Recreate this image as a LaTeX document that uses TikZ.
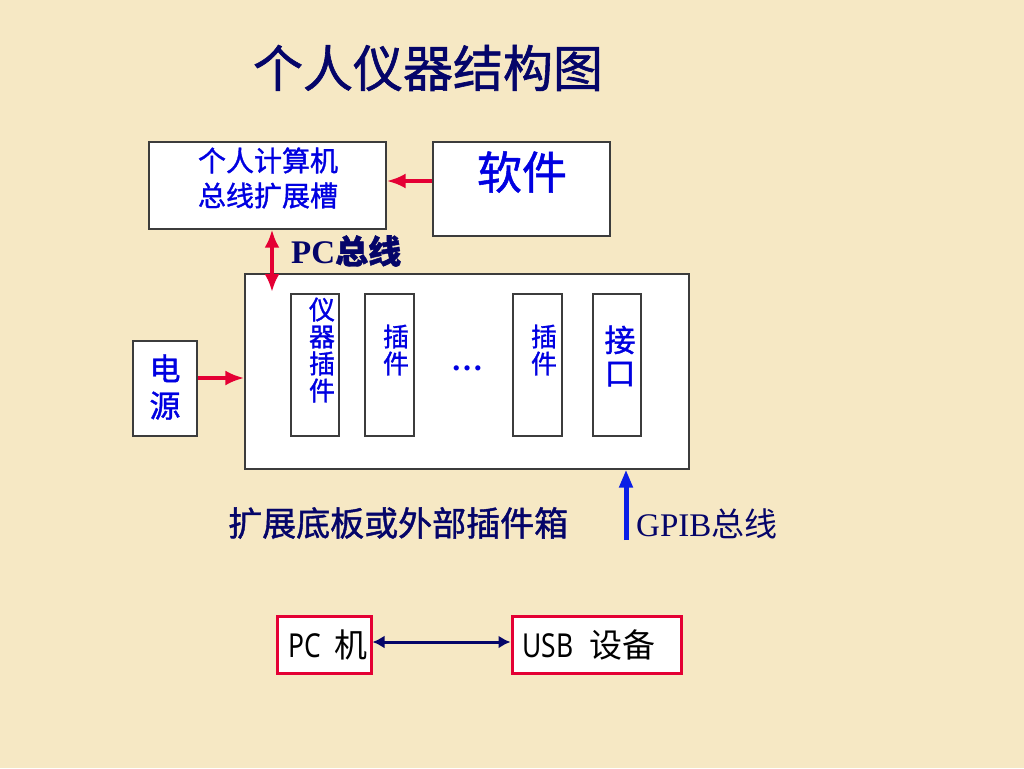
\documentclass[tikz,border=0pt]{standalone}
\usepackage{fontspec}
\setmainfont{Liberation Serif}
\newfontfamily\cjk{Noto Sans CJK SC}
\newfontfamily\cjkm[FakeBold=1.2]{Noto Sans CJK SC}
\newfontfamily\narrow[FakeStretch=0.8]{Noto Sans}
\usetikzlibrary{arrows.meta}
\definecolor{bg}{RGB}{246,232,196}
\definecolor{navy}{RGB}{5,5,105}
\definecolor{txtblue}{RGB}{0,0,225}
\definecolor{redarr}{RGB}{228,0,52}
\definecolor{gpibblue}{RGB}{10,30,230}
\definecolor{framegray}{RGB}{60,60,60}
\tikzset{
  box/.style={draw=framegray, line width=1.3pt, fill=white, inner sep=0pt},
  usbbox/.style={draw=redarr, line width=3pt, fill=white, inner sep=0pt},
  bluetxt/.style={text=txtblue, font=\cjkm, inner sep=0pt},
  vtxt/.style={text=txtblue, font=\cjkm\fontsize{26}{27}\selectfont, align=center, inner sep=0pt},
  redarrow/.style={draw=redarr, line width=4pt, -{Latex[length=19pt,width=15pt]}},
}
\begin{document}
\begin{tikzpicture}[x=1pt,y=-1pt]
\fill[bg] (0,0) rectangle (1024,768);
\useasboundingbox (0,0) rectangle (1024,768);
% title
\node[text=navy, font=\cjkm\fontsize{50}{52}\selectfont, inner sep=0pt] (title) at (428,68) {个人仪器结构图};
% top boxes
\node[box, minimum width=237pt, minimum height=87pt] (pcslot) at (267.5,185.5) {};
\node[bluetxt, font=\cjkm\fontsize{28}{35}\selectfont, align=center] (pcslottxt) at (268,178) {个人计算机\\总线扩展槽};
\node[box, minimum width=177pt, minimum height=94pt] (soft) at (521.5,189) {};
\node[bluetxt, font=\cjkm\fontsize{45}{46}\selectfont] (softtxt) at (522,172) {软件};
\draw[redarrow] (soft.west |- 0,181) -- (pcslot.east |- 0,181);
% PC bus label
\node[text=navy, font=\bfseries\fontsize{33}{35}\selectfont, inner sep=0pt, anchor=west] (pcbus) at (291,251) {PC{\cjkm 总线}};
% big box
\node[box, minimum width=444pt, minimum height=195pt] (big) at (467,371.5) {};
\coordinate (bustop) at (272,292);
\draw[draw=redarr, line width=4pt, {Latex[length=18pt,width=15pt]}-{Latex[length=18pt,width=15pt]}] (pcslot.south -| bustop) -- (bustop);
% inner plug-in boxes
\node[box, minimum width=48pt, minimum height=142pt] (p1) at (315,365) {};
\node[box, minimum width=49pt, minimum height=142pt] (p2) at (389.5,365) {};
\node[box, minimum width=49pt, minimum height=142pt] (p3) at (537.5,365) {};
\node[box, minimum width=48pt, minimum height=142pt] (p4) at (617,365) {};
\node[vtxt] (p1txt) at (322,350) {仪\\器\\插\\件};
\node[vtxt] (p2txt) at (396,350) {插\\件};
\node[vtxt] (p3txt) at (544,350) {插\\件};
\node[vtxt, font=\cjkm\fontsize{31}{33}\selectfont] (p4txt) at (620,356) {接\\口};
\node[text=txtblue, font=\bfseries\fontsize{32}{34}\selectfont, inner sep=0pt] (dots) at (467,368) {…};
% power
\node[box, minimum width=64pt, minimum height=95pt] (power) at (165,388.5) {};
\node[vtxt, font=\cjkm\fontsize{31}{37}\selectfont] (powertxt) at (165,387) {电\\源};
\draw[redarrow] (power.east |- 0,378) -- (big.west |- 0,378);
% bottom labels
\node[text=navy, font=\cjkm\fontsize{34}{36}\selectfont, inner sep=0pt, anchor=west] (boxlabel) at (228,523) {扩展底板或外部插件箱};
\coordinate (gpibstart) at (626,540);
\draw[draw=gpibblue, line width=5pt, -{Triangle[length=18pt,width=13pt]}] (gpibstart) -- (gpibstart |- big.south);
\node[text=navy, font=\fontsize{33}{35}\selectfont, inner sep=0pt, anchor=west] (gpib) at (636,524) {GPIB{\cjk 总线}};
% USB
\node[usbbox, minimum width=94pt, minimum height=57pt] (pc) at (324,644.5) {};
\node[text=black, font=\fontsize{33}{35}\selectfont, inner sep=0pt, anchor=west] (pctxt) at (288,645) {{\narrow PC}\hspace{14pt}{\cjk 机}};
\node[usbbox, minimum width=169pt, minimum height=57pt] (usb) at (596.5,644.5) {};
\node[text=black, font=\fontsize{33}{35}\selectfont, inner sep=0pt, anchor=west] (usbtxt) at (522,645) {{\narrow USB}\hspace{16pt}{\cjk 设备}};
\draw[draw=navy, line width=3pt, {Latex[length=12pt,width=13pt]}-{Latex[length=12pt,width=13pt]}] (pc.east |- 0,642) -- (usb.west |- 0,642);
\end{tikzpicture}
\end{document}
